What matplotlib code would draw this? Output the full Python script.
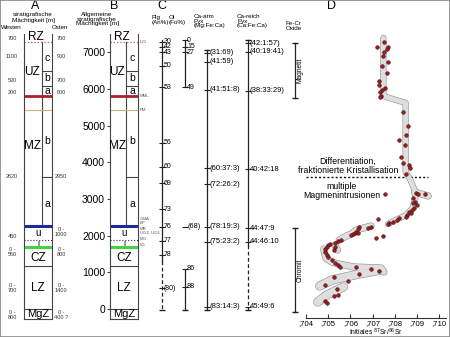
import numpy as np
import matplotlib
matplotlib.use('Agg')
import matplotlib.pyplot as plt
from matplotlib.patches import Rectangle

plt.rcParams['font.family'] = ['Liberation Sans', 'DejaVu Sans']

# Zonengrenzen in m (allgemeine stratigrafische Maechtigkeit)
grenz_hoehe = {'L21': 7280, 'UZc/b': 6490, 'UZb/a': 6080, 'MML': 5800, 'PM': 5420,
               'MZb/a': 3600, 'MR': 2260, 'CZu/l': 1880, 'LG': 1690, 'CZ/LZ': 1170, 'LZ/MgZ': 0}

west = ['700', '1100', '530', '200', '2620', '450', '0 -\n550', '0 -\n700', '0 -\n800']
ost = ['700', '900', '700', '600', '2950', '0 -\n1000', '0 -\n800', '0 -\n1400', '0 -\n400 ?']

# C: Mineralzusammensetzung
plg_h = [7284, 7148, 6995, 6622, 6041, 4532, 3878, 3425, 2717, 2243, 1853, 1472, 564]
plg_lbl = ['30', '42', '43', '50', '53', '56', '60', '69', '73', '76', '77', '78', '(80)']
ol_h = [7330, 7148, 6995, 6041]
ol_lbl = ['0', '15', '27', '49']
ol2_h = [2235]
ol2_lbl = ['(68)']
ol3_h = [1090, 600]
ol3_lbl = ['86', '88']
opx_h = [6985, 6739, 5968, 3842, 3406, 2235, 1834, 63]
opx_lbl = ['(31:69)', '(41:59)', '(41:51:8)', '(60:37:3)', '(72:26:2)', '(78:19:3)',
           '(75:23:2)', '(83:14:3)']
cpx_h = [7240, 7012, 5949, 3815, 2207, 1834, 63]
cpx_lbl = ['(42:1:57)', '(40:19:41)', '(38:33:29)', '40:42:18', '44:47:9', '44:46:10', '45:49:6']
magnetit = (5742, 7257)
chromit = (-74, 2207)

# D: initiales 87Sr/86Sr
sr_wert = [.70752, .70720, .70768, .70764, .70750, .70747, .70768, .70742, .70763, .70729,
           .70730, .70757, .70741, .70735, .70738, .70732,
           .70839, .70859, .70850, .70818, .70848, .70827, .70837, .70864, .70868,
           .70852, .70895, .70904, .70936, .70756, .70884, .70893, .70883, .70901, .70889,
           .70879, .70864, .70874, .70856, .70849, .70819, .70812, .70790, .70775, .70768,
           .70726, .70693, .70681, .70641, .70634, .70627, .70619, .70612, .70604, .70634,
           .70745, .70716, .70560, .70545, .70530, .70508, .70501, .70493, .70486, .70530,
           .70528, .70486, .70493, .70501, .70516, .70530, .70545, .70552, .70627, .70693,
           .70730, .70641, .70528, .70590, .70486, .70538, .70545, .70528, .70486, .70493]
sr_hoehe = [7283, 7147, 7147, 7084, 7011, 6894, 6738, 6621, 6439, 6221,
            6104, 6030, 5967, 5921, 5804, 5785,
            5376, 4986, 4741, 4605, 4469, 4150, 3986, 3924, 3834,
            3679, 3169, 3134, 3126, 3134, 3017, 2924, 2880, 2834, 2744,
            2698, 2652, 2608, 2562, 2515, 2472, 2425, 2379, 2335, 2316,
            2444, 2226, 2199, 2226, 2172, 2106, 2062, 2044, 2016, 2062,
            1997, 1927, 1880, 1861, 1807, 1771, 1744, 1698, 1627, 1681,
            1608, 1561, 1472, 1409, 1335, 1245, 1199, 1153, 1136, 1082,
            1044, 954, 864, 771, 654, 537, 382, 354, 226, 172]

# Huellkurven um die Messpunkte
huelle = [
    ([.70749, .70749, .70849, .70849, .70871, .70889, .70893, .70880, .70853, .70804, .70769],
     [7385, 5804, 5614, 3733, 3515, 3243, 3025, 2752, 2562, 2425, 2316], 5),
    ([.70889, .70951], [3188, 3079], 6),
    ([.70693, .70627, .70604, .70582, .70550], [2262, 2153, 2044, 1989, 1880], 6),
    ([.70529, .70542], [1744, 1608], 6),
    ([.70480, .70489, .70516, .70547, .70618, .70738, .70751],
     [1635, 1390, 1281, 1226, 1144, 1117, 1008], 6),
    ([.70738, .70640, .70516, .70462], [1063, 954, 790, 627], 8),
    ([.70569, .70493, .70453], [600, 382, 191], 8),
]
sr_ticks = [.704, .705, .706, .707, .708, .709, .710]
sr_ticklbl = [',704', ',705', ',706', ',707', ',708', ',709', ',710']

def hy(y):
    # Pixelzeile -> Hoehe in m
    return (309 - y) * 27.25

fig = plt.figure(figsize=(4.5, 3.37), dpi=100)
ax = fig.add_axes([0, 0, 1, 1])
ax.set_xlim(0, 450)
ax.set_ylim(hy(337), hy(0))
ax.axis('off')
fig.patches.append(Rectangle((0, 0), 1, 1, transform=fig.transFigure, fill=False,
                             edgecolor='#888888', lw=1.2))

# Titel
for s, x in [('A', 35), ('B', 114), ('C', 162), ('D', 332)]:
    ax.text(x, hy(6), s, fontsize=9, ha='center', va='center')
ax.text(33, hy(14), 'stratigrafische', fontsize=4.6, ha='center', va='center')
ax.text(33, hy(20), 'Mächtigkeit [m]', fontsize=4.6, ha='center', va='center')
ax.text(1, hy(27), 'Westen', fontsize=4.4, ha='left', va='center')
ax.text(60, hy(27), 'Osten', fontsize=4.4, ha='center', va='center')
ax.text(97, hy(19), 'Allgemeine\nstratigrafische\nMächtigkeit [m]', fontsize=4.6,
        ha='center', va='center', linespacing=0.95)

# Saeulen A und B
ylo, yhi = -270, 7500
bot = (337 - (309 - ylo / 27.25)) / 337
hgt = (yhi - ylo) / 27.25 / 337
ax_a = fig.add_axes([24 / 450, bot, 28 / 450, hgt])
ax_b = fig.add_axes([110 / 450, bot, 28 / 450, hgt])
for a, inner in [(ax_a, 0.64), (ax_b, 0.57)]:
    a.set_xlim(0, 1)
    a.set_ylim(ylo, yhi)
    a.patch.set_alpha(0)
    a.spines['top'].set_visible(False)
    for sp in ['left', 'right', 'bottom']:
        a.spines[sp].set_color('#444444')
        a.spines[sp].set_linewidth(0.8)
    a.set_xticks([])
    a.plot([inner, inner], [grenz_hoehe['L21'], grenz_hoehe['MR']], color='#444444', lw=0.8)
    for k in ['UZc/b', 'UZb/a', 'MZb/a']:
        a.plot([inner, 1], [grenz_hoehe[k]] * 2, color='#444444', lw=0.8)
    for k in ['CZ/LZ', 'LZ/MgZ']:
        a.axhline(grenz_hoehe[k], color='#444444', lw=0.8)
    a.axhline(grenz_hoehe['L21'], color='#d0506a', lw=0.9, ls=':')
    a.axhline(grenz_hoehe['MML'], color='#b01c2e', lw=2)
    a.axhline(grenz_hoehe['PM'], color='#d8b080', lw=0.8)
    a.axhline(grenz_hoehe['MR'], color='#1c2a9a', lw=2.2)
    a.axhline(grenz_hoehe['CZu/l'], color='#333333', lw=0.8, ls=':')
    a.axhline(grenz_hoehe['LG'], color='#44d044', lw=2.2)
    a.text(0.42, hy(37), 'RZ', fontsize=8.5, ha='center', va='center')
    a.text((inner + 1) / 2, hy(58), 'c', fontsize=7.5, ha='center', va='center')
    a.text((inner + 1) / 2, hy(78), 'b', fontsize=7.5, ha='center', va='center')
    a.text((inner + 1) / 2, hy(91), 'a', fontsize=7.5, ha='center', va='center')
    a.text(inner / 2 - 0.02, hy(72), 'UZ', fontsize=8.5, ha='center', va='center')
    a.text(inner / 2 - 0.02, hy(146), 'MZ', fontsize=8.5, ha='center', va='center')
    a.text((inner + 1) / 2, hy(141), 'b', fontsize=7.5, ha='center', va='center')
    a.text((inner + 1) / 2, hy(204), 'a', fontsize=7.5, ha='center', va='center')
    a.text(0.5, hy(233), 'u', fontsize=7, ha='center', va='center')
    a.text(0.5, hy(244), 'l', fontsize=6, ha='center', va='center')
    a.text(0.5, hy(258), 'CZ', fontsize=8.5, ha='center', va='center')
    a.text(0.5, hy(288), 'LZ', fontsize=8.5, ha='center', va='center')
    a.text(0.5, hy(314), 'MgZ', fontsize=8, ha='center', va='center')
ax_a.set_yticks([])
ax_b.set_yticks(np.arange(0, 7001, 1000))
ax_b.tick_params(axis='y', direction='out', length=2.5, labelsize=7.5, pad=1, color='#444444')

wy = [38, 56, 80, 92, 176, 236, 252, 288, 315]
oy = [38, 56, 80, 92, 176, 232, 252, 288, 315]
for s, y in zip(west, wy):
    ax.text(12, hy(y), s, fontsize=4, ha='center', va='center', linespacing=0.9, color='#333333')
for s, y in zip(ost, oy):
    ax.text(61, hy(y), s, fontsize=4, ha='center', va='center', linespacing=0.9, color='#333333')

for s, y in [('L21', 42), ('MML', 96), ('PM', 110), ('GMA', 218.5), ('BP', 222.5), ('MR', 228.5),
             ('UG2, UG1', 233), ('MG', 238.5), ('LG', 244.5)]:
    ax.text(140, hy(y), s, fontsize=3.1, ha='left', va='center', color='#555555')

# Kopfzeile C
for s, x, y in [('Plg\n(An%)', 152, 20), ('Ol\n(Fo%)', 169, 20),
                ('Ca-arm\nPyx\n(Mg:Fe:Ca)', 194, 21), ('Ca-reich\nPyx\n(Ca:Fe:Ca)', 237, 21),
                ('Fe-Cr\nOxide', 286, 26)]:
    ax.text(x, hy(y), s, fontsize=4.5, ha='left', va='center', linespacing=0.95)

def saeule(x, hs, lbls, fs=5.5, strich=True):
    if strich:
        ax.plot(np.full(len(hs), x), hs, ls='none', marker='_', ms=4, mew=0.8, color='#222222')
    for h, s in zip(hs, lbls):
        ax.text(x + 2, h, s, fontsize=fs, ha='left', va='center')

lc = '#222222'
# Plg
ax.plot([162, 162], [7330, 1300], color=lc, lw=0.9)
ax.plot([162, 162], [1300, -30], color=lc, lw=0.9, ls=(0, (3, 2)))
saeule(162, plg_h, plg_lbl, fs=5.0)
ax.plot([162], [-30], marker='_', ms=4, color=lc)
# Ol
ax.plot([185, 185], [7330, 6041], color=lc, lw=0.9)
saeule(185, ol_h, ol_lbl, fs=5.0)
saeule(185, ol2_h, ol2_lbl, fs=5.2)
ax.plot([185, 185], [1090, -30], color=lc, lw=0.9)
saeule(185, ol3_h, ol3_lbl, fs=5.2)
ax.plot([185], [-30], marker='_', ms=4, color=lc)
# Ca-armer Pyx
ax.plot([207, 207], [7058, -30], color=lc, lw=0.9)
saeule(207, opx_h, opx_lbl)
ax.plot([207, 207], [7058, -30], ls='none', marker='_', ms=4, color=lc)
# Ca-reicher Pyx
ax.plot([248, 248], [7330, 1750], color=lc, lw=0.9)
ax.plot([248, 248], [1750, -30], color=lc, lw=0.9, ls=(0, (3, 2)))
saeule(248, cpx_h, cpx_lbl)
ax.plot([248, 248], [7330, -30], ls='none', marker='_', ms=4, color=lc)
# Oxide
for (h0, h1), s in [(magnetit, 'Magnetit'), (chromit, 'Chromit')]:
    ax.plot([295, 295], [h0, h1], color=lc, lw=0.9)
    ax.plot([295, 295], [h0, h1], ls='none', marker='_', ms=5, color=lc)
    ax.text(300, (h0 + h1) / 2, s, fontsize=4.8, rotation=90, ha='center', va='center')

# D
ax_d = fig.add_axes([306 / 450, 19 / 337, 140 / 450, 318 / 337])
ax_d.patch.set_alpha(0)
ax_d.set_xlim(.704 + 2 / 22500, .704 + 142 / 22500)
ax_d.set_ylim(hy(318), hy(0))
for sp in ['left', 'right', 'top']:
    ax_d.spines[sp].set_visible(False)
ax_d.spines['bottom'].set_color('#333333')
ax_d.spines['bottom'].set_linewidth(0.8)
ax_d.set_yticks([])
ax_d.set_xticks(sr_ticks)
ax_d.set_xticklabels(sr_ticklbl)
ax_d.tick_params(axis='x', direction='in', length=3, labelsize=5.6, pad=1.5, color='#333333')
ax.text(376, hy(332.5), r'Initiales $^{87}$Sr/$^{86}$Sr', fontsize=4.8, ha='center', va='center')

for xs, hs, w in huelle:
    ax_d.plot(xs, hs, color='#8a8a8a', lw=w * 0.72 + 0.8, solid_capstyle='round',
              solid_joinstyle='round', zorder=2)
for xs, hs, w in huelle:
    ax_d.plot(xs, hs, color='#dedede', lw=w * 0.72, solid_capstyle='round',
              solid_joinstyle='round', zorder=3)
ax_d.plot(sr_wert, sr_hoehe, ls='none', marker='o', ms=2.6, color='#9a1f22',
          mec='#4a0c0c', mew=0.4, zorder=4)
ax_d.axhline(grenz_hoehe['MZb/a'], xmin=0, xmax=0.87, color='#111111', lw=1, ls=(0, (1.5, 1.5)))

ax.text(348, hy(166), 'Differentiation,\nfraktionierte Kristallisation', fontsize=6.3,
        ha='center', va='center', linespacing=1.0)
ax.text(342, hy(191), 'multiple\nMagmenintrusionen', fontsize=6.3,
        ha='center', va='center', linespacing=1.0)

fig.savefig('out.png', dpi=100)
